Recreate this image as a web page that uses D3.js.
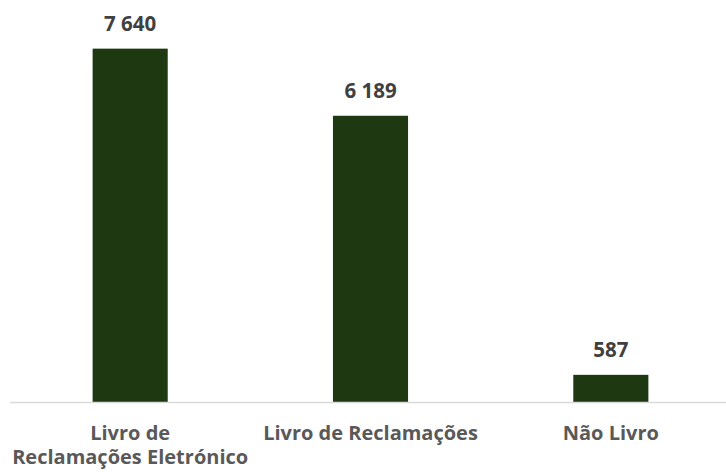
<!DOCTYPE html>
<html>
<head>
<meta charset="utf-8">
<script src="https://cdn.jsdelivr.net/npm/d3@7"></script>
<style>
  body { margin: 0; background: #fff; }
  text { font-family: "Open Sans", Lato, sans-serif; font-weight: bold; }
</style>
</head>
<body>
<svg></svg>
<script>
const size = {w: 726, h: 472};
const margin = {t: 32, r: -5, b: 70, l: 10};

const categories = [['Livro de', 'Reclamações Eletrónico'], ['Livro de Reclamações'], ['Não Livro']];
const values = [7640, 6189, 587];
const valueLabels = ['7 640', '6 189', '587'];

const svg = d3.select('svg')
    .attr('width', size.w)
    .attr('height', size.h);

const x = d3.scaleBand()
    .domain(d3.range(values.length))
    .range([margin.l, size.w - margin.r])
    .paddingInner(0.6875)
    .paddingOuter(0.34375);

const y = d3.scaleLinear()
    .domain([0, 8000])
    .range([size.h - margin.b, margin.t]);

let g = svg.append('g');

g.selectAll('rect')
    .data(values)
    .enter()
    .append('rect')
    .attr('x', (d, i) => x(i))
    .attr('y', d => y(d))
    .attr('width', x.bandwidth())
    .attr('height', d => y(0) - y(d))
    .style('fill', '#1e3912');

// axis line
g.append('line')
    .attr('x1', margin.l)
    .attr('x2', size.w - margin.r)
    .attr('y1', y(0) + 0.5)
    .attr('y2', y(0) + 0.5)
    .style('stroke', '#d9d9d9')
    .style('stroke-width', 1.5);

g.selectAll('.val')
    .data(values)
    .enter()
    .append('text')
    .classed('val', true)
    .attr('x', (d, i) => x(i) + x.bandwidth() / 2)
    .attr('y', d => y(d) - 18)
    .attr('text-anchor', 'middle')
    .style('font-size', '20.5px')
    .style('fill', '#404040')
    .text((d, i) => valueLabels[i]);

let cat = g.selectAll('.cat')
    .data(categories)
    .enter()
    .append('text')
    .classed('cat', true)
    .attr('text-anchor', 'middle')
    .style('font-size', '20px')
    .style('fill', '#595959')
    .attr('transform', (d, i) => 'translate(' + (x(i) + x.bandwidth() / 2) + ',' + (y(0) + 38) + ')');

cat.selectAll('tspan')
    .data(d => d)
    .enter()
    .append('tspan')
    .attr('x', 0)
    .attr('dy', (d, i) => i === 0 ? 0 : 24)
    .text(d => d);
</script>
</body>
</html>
